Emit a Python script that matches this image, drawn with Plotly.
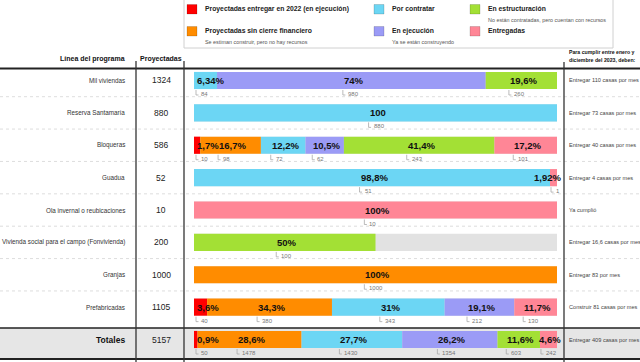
import plotly.graph_objects as go

# ---------------- data ----------------
rows = ["Mil viviendas", "Reserva Santamaría", "Bloqueras", "Guadua",
        "Ola invernal o reubicaciones", "Vivienda social para el campo (Fonvivienda)",
        "Granjas", "Prefabricadas", "Totales"]
projected = [1324, 880, 586, 52, 10, 200, 1000, 1105, 5157]
goals = ["Entregar 110 casas por mes", "Entregar 73 casas por mes", "Entregar 40 casas por mes",
         "Entregar 4 casas por mes", "Ya cumplió", "Entregar 16,6 casas por mes",
         "Entregar 83 por mes", "Construir 81 casas por mes", "Entregar 409 casas por mes"]

categories = ["Proyectadas entregar en 2022 (en ejecución)", "Proyectadas sin cierre financiero",
              "Por contratar", "En ejecución", "En estructuración", "Entregadas"]
cat_notes = ["", "Se estiman construir, pero no hay recursos", "", "Ya se están construyendo",
             "No están contratadas, pero cuentan con recursos", ""]
colors = ["#ff0000", "#ff8c00", "#6cd6f4", "#9b9bf6", "#a3e035", "#ff8696"]

red_counts = [0, 0, 10, 0, 0, 0, 0, 40, 50]
orange_counts = [0, 0, 98, 0, 0, 0, 1000, 380, 1478]
cyan_counts = [84, 880, 72, 51, 0, 0, 0, 343, 1430]
purple_counts = [980, 0, 62, 0, 0, 0, 0, 212, 1354]
green_counts = [260, 0, 243, 0, 0, 100, 0, 0, 603]
pink_counts = [0, 0, 101, 1, 10, 0, 0, 130, 242]

red_labels = [None, None, "1,7%", None, None, None, None, "3,6%", "0,9%"]
orange_labels = [None, None, "16,7%", None, None, None, "100%", "34,3%", "28,6%"]
cyan_labels = ["6,34%", "100", "12,2%", "98,8%", None, None, None, "31%", "27,7%"]
purple_labels = ["74%", None, "10,5%", None, None, None, None, "19,1%", "26,2%"]
green_labels = ["19,6%", None, "41,4%", None, None, "50%", None, None, "11,6%"]
pink_labels = [None, None, "17,2%", "1,92%", "100%", None, None, "11,7%", "4,6%"]

all_counts = [red_counts, orange_counts, cyan_counts, purple_counts, green_counts, pink_counts]
all_labels = [red_labels, orange_labels, cyan_labels, purple_labels, green_labels, pink_labels]

# ---------------- layout constants ----------------
W, H = 640, 362
PX0, PX1 = 194, 557          # bar area in pixels
ROW0, ROWSTEP = 80.5, 32.375  # row centre pixel / spacing
SANS = "Liberation Sans, Arial, Helvetica, sans-serif"
UNIT = (PX1 - PX0) / 100.0
PCT_SIZE = 9.5


def px(x):
    return x / W


def py(y):
    return 1 - y / H


def row_px(i):
    return ROW0 + i * ROWSTEP


def ydata(pyv):
    return (pyv - ROW0) / ROWSTEP


def pct_width(s):
    w = 0.0
    for ch in s:
        if ch.isdigit():
            w += 0.556
        elif ch == ",":
            w += 0.278
        elif ch == "%":
            w += 0.889
        else:
            w += 0.5
    return w * PCT_SIZE


def note(x, y, text, size, color="#222", anchor="left", bold=False):
    return dict(x=px(x), y=py(y), xref="paper", yref="paper", xanchor=anchor, yanchor="middle",
                text=("<b>%s</b>" % text) if bold else text, showarrow=False,
                font=dict(family=SANS, size=size, color=color))


fig = go.Figure()
n = len(rows)
ys = list(range(n))

# background (remaining) bar
fig.add_trace(go.Bar(orientation="h", y=ys, x=[100] * n, base=[0] * n, width=0.53,
                     marker=dict(color="#e2e2e2", line=dict(width=0)), showlegend=False,
                     hoverinfo="skip"))

bases = [0.0] * n
shapes = []
annotations = []
for c, counts in enumerate(all_counts):
    widths = [100.0 * counts[i] / projected[i] for i in range(n)]
    fig.add_trace(go.Bar(orientation="h", y=ys, x=widths, base=list(bases), width=0.53,
                         marker=dict(color=colors[c], line=dict(width=0)),
                         name=categories[c], showlegend=False))
    for i in range(n):
        lab = all_labels[c][i]
        if counts[i] > 0 and lab is not None:
            s = PX0 + bases[i] * UNIT
            e = PX0 + (bases[i] + widths[i]) * UNIT
            tw = pct_width(lab)
            left = (s + e) / 2 - tw / 2
            left = max(left, PX0 + 1)
            left = min(left, PX1 + 2 - tw)
            rp = row_px(i)
            annotations.append(note(left, rp, lab, PCT_SIZE, "#111", bold=True))
            cx = max(left, s) + 1
            shapes.append(dict(type="path", xref="paper", yref="paper",
                               path="M %f,%f L %f,%f L %f,%f" % (px(cx), py(rp + 9.5), px(cx),
                                                                 py(rp + 14.5), px(cx + 2.5),
                                                                 py(rp + 14.5)),
                               line=dict(color="#aaaaaa", width=0.8)))
            annotations.append(note(cx + 3, rp + 13.5, str(counts[i]), 6, "#777"))
        bases[i] += widths[i]

# totals row background
tot_top, tot_bot = 328, 358
shapes.append(dict(type="rect", xref="paper", yref="paper", x0=0, x1=1, y0=py(tot_bot), y1=py(tot_top),
                   fillcolor="#e6e6e6", line=dict(width=0), layer="below"))

# dashed row separators
for i in range(n - 2):
    yy = (row_px(i) + row_px(i + 1)) / 2
    shapes.append(dict(type="line", xref="paper", yref="paper", x0=0, x1=1, y0=py(yy), y1=py(yy),
                       line=dict(color="#d4d4d4", width=0.8, dash="dot")))

# solid lines
shapes.append(dict(type="line", xref="paper", yref="paper", x0=0, x1=1, y0=py(68.5), y1=py(68.5),
                   line=dict(color="#222", width=2)))
shapes.append(dict(type="line", xref="paper", yref="paper", x0=0, x1=1, y0=py(tot_top), y1=py(tot_top),
                   line=dict(color="#222", width=1.5)))
shapes.append(dict(type="line", xref="paper", yref="paper", x0=0, x1=1, y0=py(tot_bot + 1),
                   y1=py(tot_bot + 1), line=dict(color="#222", width=2)))
for xv, ytop in [(136, 61), (184, 61), (564, 62)]:
    shapes.append(dict(type="line", xref="paper", yref="paper", x0=px(xv), x1=px(xv), y0=py(ytop),
                       y1=py(H), line=dict(color="#333", width=1.3)))

# left table text
for i in range(n):
    rp = row_px(i)
    if i == n - 1:
        annotations.append(note(127, rp, rows[i], 8.5, "#111", anchor="right", bold=True))
    else:
        annotations.append(note(127, rp, rows[i], 6.3, "#333", anchor="right"))
    annotations.append(note(161, rp, str(projected[i]), 8.5, "#222", anchor="center"))
    annotations.append(note(567, rp, goals[i], 5.6, "#444"))

# headers
annotations.append(note(127, 59, "Línea del programa", 7, "#111", anchor="right", bold=True))
annotations.append(note(161, 59, "Proyectadas", 7, "#111", anchor="center", bold=True))
annotations.append(note(567, 52, "Para cumplir entre enero y", 5.2, "#111", bold=True))
annotations.append(note(567, 60, "diciembre del 2023, deben:", 5.2, "#111", bold=True))

# legend box
shapes.append(dict(type="rect", xref="paper", yref="paper", x0=px(184), x1=px(613), y0=py(48),
                   y1=py(-2), line=dict(color="#d0d0d0", width=1), fillcolor="rgba(0,0,0,0)"))
leg_pos = [(187, 9), (187, 31), (374, 9), (374, 31), (470, 9), (470, 31)]
for c in range(len(categories)):
    lx, ly = leg_pos[c]
    shapes.append(dict(type="rect", xref="paper", yref="paper", x0=px(lx), x1=px(lx + 10),
                       y0=py(ly + 5), y1=py(ly - 4.5), fillcolor=colors[c],
                       line=dict(color="rgba(0,0,0,0.25)", width=0.6)))
    annotations.append(note(lx + 16, ly, categories[c], 6.8, "#222", bold=True))
    if cat_notes[c]:
        annotations.append(note(lx + 16, ly + 11, cat_notes[c], 5.4, "#555"))

fig.update_layout(
    width=W, height=H, margin=dict(l=0, r=0, t=0, b=0),
    paper_bgcolor="white", plot_bgcolor="rgba(0,0,0,0)",
    barmode="overlay", showlegend=False,
    xaxis=dict(domain=[px(PX0), px(PX1)], range=[0, 100], visible=False, fixedrange=True),
    yaxis=dict(domain=[0, 1], range=[ydata(H), ydata(0)], visible=False, fixedrange=True),
    shapes=shapes, annotations=annotations,
)

fig.write_html("out.html", config={"displayModeBar": False},
               post_script="document.body.style.margin='0';")
